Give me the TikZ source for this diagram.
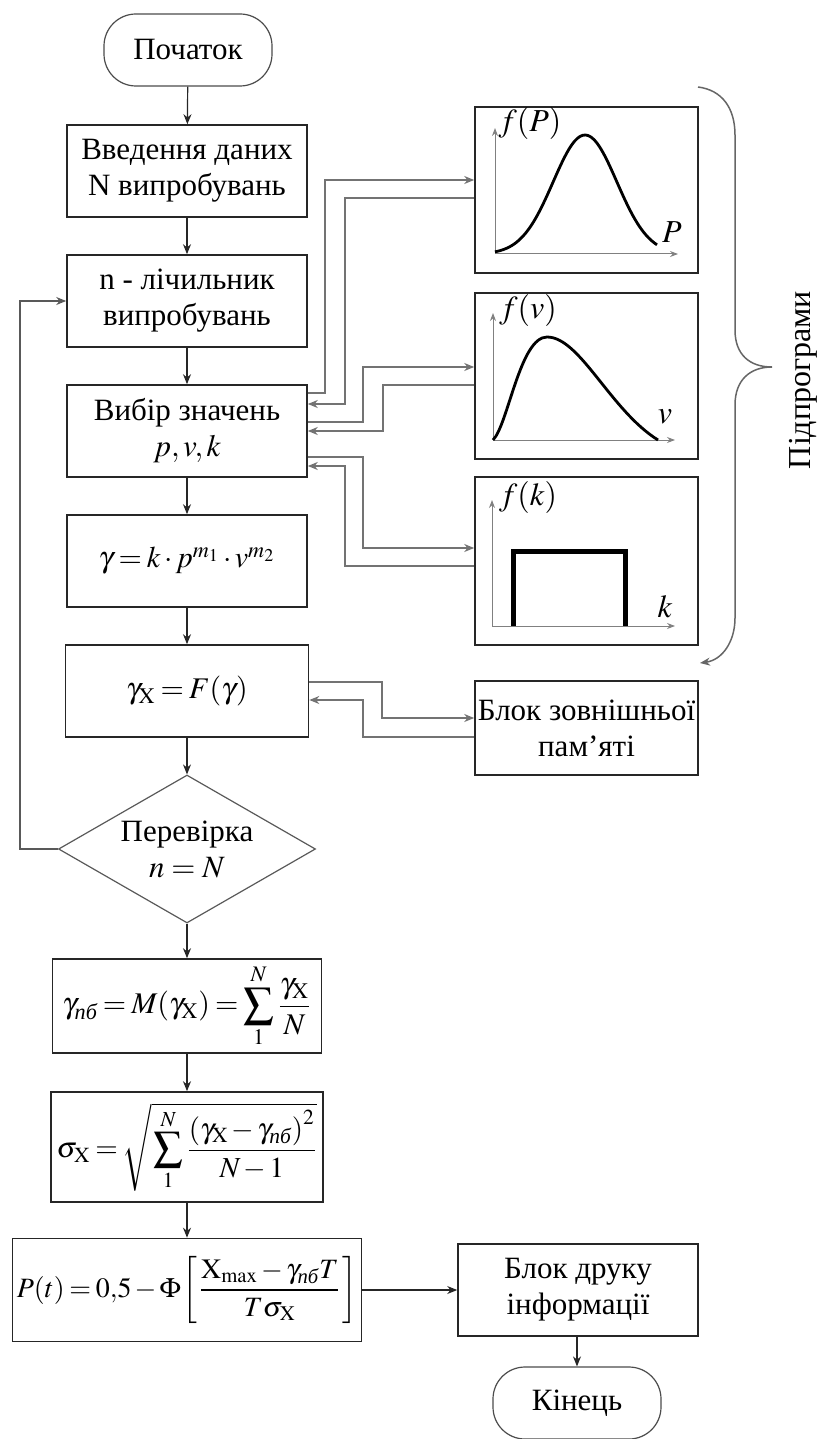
\documentclass[tikz,border=0pt]{standalone}
\usepackage{amsmath}
\usepackage{mathptmx}
\usepackage{fontspec}
\setmainfont{Liberation Serif}
\usetikzlibrary{arrows.meta, shapes.geometric}

\newcommand{\subpb}{\text{\itshape пб}}
\newcommand{\subX}{\mathrm{X}}
\newcommand{\tightmath}{\medmuskip=2mu\relax\thickmuskip=3mu\relax\thinmuskip=1mu\relax}

\begin{document}
\begin{tikzpicture}[
    x=0.5pt, y=-0.5pt,
    font=\fontsize{15.5}{18}\selectfont,
    >={Stealth[length=5pt, width=4pt]},
    % Node styles
    termbox/.style={
        rectangle, rounded corners=16pt,
        draw=black!70, line width=0.6pt,
        minimum width=84pt, minimum height=36pt,
        align=center
    },
    procbox/.style={
        rectangle, draw=black!85, line width=0.8pt,
        minimum width=120pt, minimum height=46pt,
        align=center, inner sep=2pt
    },
    plotbox/.style={
        rectangle, draw=black!85, line width=0.8pt,
        minimum width=111.5pt, minimum height=83pt
    },
    checkbox/.style={
        diamond, aspect=1.74, draw=black!65, line width=0.6pt,
        minimum width=128.5pt, minimum height=74pt,
        inner sep=0pt, align=center
    },
    formula/.style={
        font=\fontsize{15}{17}\selectfont,
        execute at begin node=\tightmath
    },
    flow/.style={->, draw=black!85, line width=0.6pt},
    link/.style={->, draw=black!55, line width=0.75pt},
    axis/.style={->, draw=black!50, line width=0.5pt,
        >={Stealth[length=4pt, width=3pt]}},
    curve/.style={draw=black, line width=1.4pt},
    lbl/.style={font=\fontsize{16}{18}\selectfont, inner sep=0pt},
]
\useasboundingbox (0,0) rectangle (817,1439);

%% ---- MAIN COLUMN ----
\node[termbox] (start)   at (188, 50)  {Початок};
\node[procbox] (input)   at (187, 171) {Введення даних\\N випробувань};
\node[procbox] (counter) at (187, 301) {n - лічильник\\випробувань};
\node[procbox] (choice)  at (187, 431) {Вибір значень\\$p,v,k$};
\node[procbox, formula] (gamma) at (187, 561) {$\gamma = k\cdot p^{m_1}\cdot v^{m_2}$};
\node[procbox, formula, minimum width=121.5pt] (gammax) at (187, 691)
    {$\gamma_{\subX} = F(\gamma)$};
\node[checkbox] (check)  at (187, 849) {Перевірка\\$n = N$};
\node[procbox, formula, minimum width=134.5pt, minimum height=47pt] (mean) at (187, 1006)
    {$\displaystyle \gamma_{\subpb} = M(\gamma_{\subX}) = \sum_{1}^{N}\,\frac{\gamma_{\subX}}{N}$};
\node[procbox, formula, font=\fontsize{14.5}{17}\selectfont,
      minimum width=136pt, minimum height=55pt] (sigma) at (187, 1147)
    {$\displaystyle \sigma_{\subX} = \sqrt{\,\sum_{1}^{N}\,\frac{\left(\gamma_{\subX}-\gamma_{\subpb}\right)^2}{N-1}}$};
\node[procbox, formula, font=\fontsize{14}{17}\selectfont,
      minimum width=174.5pt, minimum height=51.5pt] (prob) at (187, 1290)
    {$\displaystyle P(t) = 0{,}5-\Phi\left[\,\frac{\subX_{\max}-\gamma_{\subpb}T}{T\sigma_{\subX}}\,\right]$};

%% ---- BOTTOM RIGHT ----
\node[procbox] (print)   at (578, 1290) {Блок друку\\інформації};
\node[termbox] (finish)  at (577, 1403) {Кінець};

%% ---- RIGHT COLUMN: subprograms ----
\node[plotbox] (fP) at (586.5, 190) {};
\node[plotbox] (fv) at (586.5, 376) {};
\node[plotbox, minimum height=84pt] (fk) at (586.5, 561) {};
\node[procbox, inner sep=0.5pt, minimum width=111.5pt, minimum height=47pt] (memory)
    at (586.5, 728) {Блок зовнішньої\\пам'яті};

% f(P): bell curve
\draw[axis] (495,254) -- (495,128);
\draw[axis] (495,254) -- (678,254);
\draw[curve] plot[domain=495:657, samples=60, smooth]
    (\x, {254-119*exp(-(\x-585)*(\x-585)/2025)});
\node[lbl] (fPy) at (530,124) {$f(P)$};
\node[lbl] (fPx) at (672,232) {$P$};

% f(v): skewed curve
\draw[axis] (493,440) -- (493,313);
\draw[axis] (493,440) -- (675,440);
\draw[curve] (493,440) .. controls (508,425) and (520,337) .. (547,337)
    .. controls (580,337) and (610,410) .. (658,440);
\node[lbl] (fvy) at (528,310) {$f(v)$};
\node[lbl] (fvx) at (665,417) {$v$};

% f(k): uniform
\draw[axis] (492,626) -- (492,500);
\draw[axis] (492,626) -- (675,626);
\draw[draw=black, line width=2.5pt] (513,626) -- (513,551) -- (625,551) -- (625,626);
\node[lbl] (fky) at (528,497) {$f(k)$};
\node[lbl] (fkx) at (665,607) {$k$};

%% ---- BRACE ----
\draw[->, draw=black!60, line width=0.75pt]
    (698,87) .. controls (722,90) and (735,108) .. (735,135) -- (735,330)
    .. controls (735,355) and (750,367) .. (772,367)
    .. controls (750,367) and (735,380) .. (735,405) -- (735,618)
    .. controls (735,642) and (722,660) .. (700,663);
\node[rotate=90, font=\fontsize{16}{18}\selectfont] (sublabel) at (803,380) {Підпрограми};

%% ---- ARROWS ----
% main flow
\draw[flow] (start) -- (input);
\draw[flow] (input) -- (counter);
\draw[flow] (counter) -- (choice);
\draw[flow] (choice) -- (gamma);
\draw[flow] (gamma) -- (gammax);
\draw[flow] (gammax) -- (check);
\draw[flow] (check) -- (mean);
\draw[flow] (mean) -- (sigma);
\draw[flow] (sigma) -- (prob);
\draw[flow] (prob.east) -- (prob.east -| print.west);
\draw[flow] (print.south -| finish.north) -- (finish);

% check -> counter (loop)
\draw[flow, draw=black!65] (check.west) -- ++(-38,0) |- (counter.west);

% choice <-> f(P)
\draw[link] (choice.east |- 0,393) -| (325,180) -- (fP.west |- 0,180);
\draw[link] (fP.west |- 0,198) -| (345,404) -- (choice.east |- 0,404);

% choice <-> f(v)
\draw[link] (choice.east |- 0,422) -| (363,367) -- (fv.west |- 0,367);
\draw[link] (fv.west |- 0,385) -| (383,431) -- (choice.east |- 0,431);

% choice <-> f(k)
\draw[link] (choice.east |- 0,457) -| (363,548) -- (fk.west |- 0,548);
\draw[link] (fk.west |- 0,566) -| (345,466) -- (choice.east |- 0,466);

% gammax <-> memory
\draw[link] (gammax.east |- 0,682) -| (382,718) -- (memory.west |- 0,718);
\draw[link] (memory.west |- 0,737) -| (363,700) -- (gammax.east |- 0,700);

\end{tikzpicture}
\end{document}
